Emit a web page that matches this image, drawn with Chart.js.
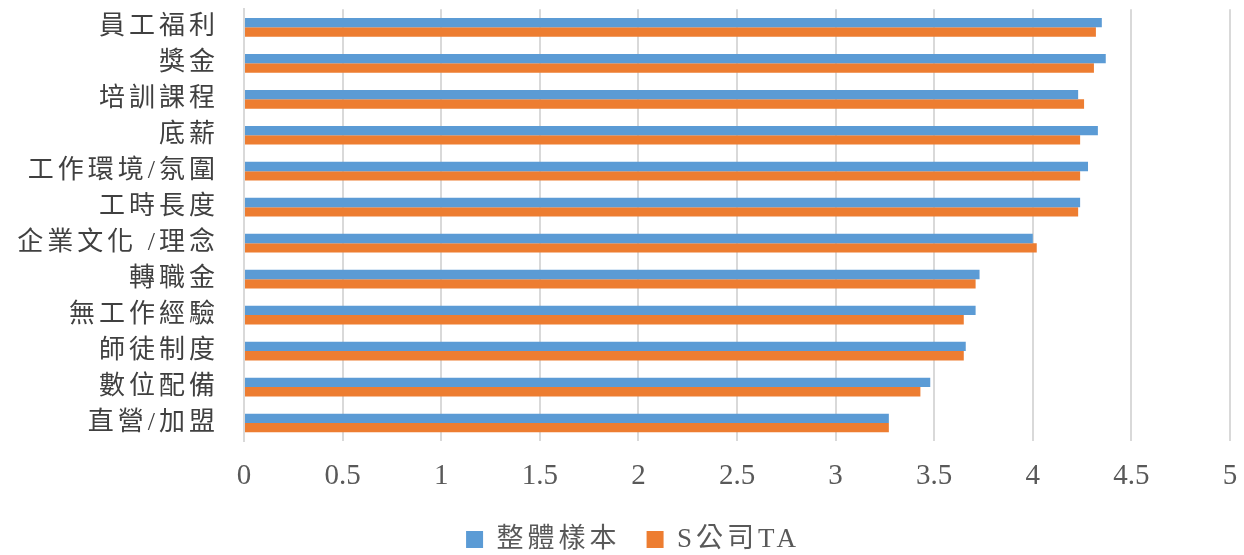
<!DOCTYPE html>
<html>
<head>
<meta charset="utf-8">
<script src="https://cdn.jsdelivr.net/npm/chart.js@4/dist/chart.umd.min.js"></script>
<style>
html,body{margin:0;padding:0;background:#fff;}
#wrap{width:1244px;height:555px;position:relative;}
</style>
</head>
<body>
<div id="wrap"><canvas id="c" width="1244" height="555"></canvas></div>
<script>
const categories = ["員工福利","獎金","培訓課程","底薪","工作環境/氛圍","工時長度","企業文化 /理念","轉職金","無工作經驗","師徒制度","數位配備","直營/加盟"];
const overallSample = [4.35,4.37,4.23,4.33,4.28,4.24,4.00,3.73,3.71,3.66,3.48,3.27];
const companyTA = [4.32,4.31,4.26,4.24,4.24,4.23,4.02,3.71,3.65,3.65,3.43,3.27];
const seriesNames = ["整體樣本","S公司TA"];
const xTicks = [0,0.5,1,1.5,2,2.5,3,3.5,4,4.5,5];

const mixFont = '"Liberation Serif", "Noto Sans CJK TC", "Noto Sans CJK SC", serif';
const serif = '"Liberation Serif", "Times New Roman", serif';

class SpacedCategory extends Chart.CategoryScale {
  drawLabels(area) {
    const c = this.ctx; const prev = c.letterSpacing;
    c.save();
    c.translate(-25, 0);
    c.letterSpacing = '4px';
    super.drawLabels(area);
    c.restore();
    c.letterSpacing = prev;
  }
}
SpacedCategory.id = 'spacedCategory';
SpacedCategory.defaults = Chart.CategoryScale.defaults;

class PlainLinear extends Chart.LinearScale {
  drawLabels(area) {
    const c = this.ctx; const prev = c.letterSpacing;
    c.save();
    c.translate(0, 18);
    c.letterSpacing = '0px';
    super.drawLabels(area);
    c.restore();
    c.letterSpacing = prev;
  }
}
PlainLinear.id = 'plainLinear';
PlainLinear.defaults = Chart.LinearScale.defaults;
Chart.register(SpacedCategory, PlainLinear);

const spacing = {
  id: 'spacing',
  beforeUpdate(chart) { chart.ctx.letterSpacing = '4px'; },
  beforeDraw(chart) { chart.ctx.letterSpacing = '4px'; }
};

new Chart(document.getElementById('c'), {
  type: 'bar',
  plugins: [spacing],
  data: {
    labels: categories,
    datasets: [
      {label: seriesNames[0], data: overallSample, backgroundColor: '#5B9BD5', borderWidth: 0, categoryPercentage: 0.52, barPercentage: 1.0},
      {label: seriesNames[1], data: companyTA, backgroundColor: '#ED7D31', borderWidth: 0, categoryPercentage: 0.52, barPercentage: 1.0}
    ]
  },
  options: {
    indexAxis: 'y',
    responsive: false,
    animation: false,
    devicePixelRatio: 1,
    layout: {padding: {top: 0, right: 14, left: 36, bottom: -8}},
    plugins: {
      legend: {
        position: 'bottom',
        labels: {
          boxWidth: 17, boxHeight: 17, padding: 26,
          color: '#595959',
          font: {family: mixFont, size: 27}
        }
      },
      tooltip: {enabled: false}
    },
    scales: {
      x: {
        type: 'plainLinear',
        min: 0, max: 5,
        afterBuildTicks: (s) => { s.ticks = xTicks.map(v => ({value: v})); },
        ticks: {color: '#595959', font: {family: serif, size: 29}, padding: 0, maxRotation: 0,
                callback: (v) => String(v)},
        grid: {color: '#D9D9D9', lineWidth: 2, drawTicks: false},
        border: {display: false},
        afterFit: (s) => { s.height = 59; }
      },
      y: {
        type: 'spacedCategory',
        ticks: {color: '#404040', font: {family: mixFont, size: 26, lineHeight: 0.72}, padding: 0, autoSkip: false},
        grid: {display: false, drawTicks: false},
        border: {display: true, color: '#D9D9D9', width: 2},
        afterFit: (s) => { s.width = 208; }
      }
    }
  }
});
</script>
</body>
</html>
